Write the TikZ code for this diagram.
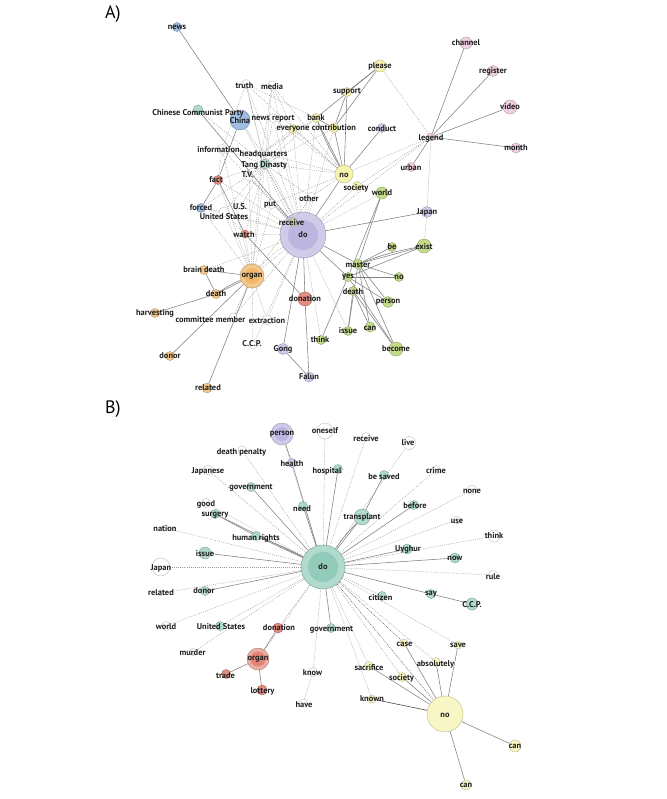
\documentclass[tikz,border=0pt]{standalone}
\usepackage{fontspec}
\setmainfont{PT Sans}
\usetikzlibrary{backgrounds}
\pgfdeclarelayer{circ}
\pgfsetlayers{background,circ,main}
\definecolor{cblue}{HTML}{92B5DE}
\definecolor{cteal}{HTML}{A6D6C6}
\definecolor{cyel}{HTML}{F5F2A6}
\definecolor{cpink}{HTML}{F0C9DE}
\definecolor{cpur}{HTML}{C9C5E8}
\definecolor{cpurd}{HTML}{B9B3E0}
\definecolor{cgreen}{HTML}{BBD77A}
\definecolor{cred}{HTML}{E27F72}
\definecolor{credl}{HTML}{E9A398}
\definecolor{corg}{HTML}{F4C27E}
\definecolor{corgd}{HTML}{F0B468}
\definecolor{cgrn}{HTML}{C8D3A8}
\definecolor{cBteal}{HTML}{A5D6C7}
\definecolor{cBteald}{HTML}{90CAB8}
\definecolor{cBy}{HTML}{F7F5BC}
\tikzset{
 nd/.style={circle,inner sep=0pt,draw=#1!75!black,fill=#1,fill opacity=0.88,line width=0.4pt},
 lbl/.style={font=\bfseries\fontsize{8.4}{9}\selectfont,text=black!88,inner sep=0pt},
 se/.style={draw=black!50,line width=0.55pt},
 de/.style={draw=black!40,line width=0.45pt,dash pattern=on 0.9pt off 1.2pt},
 dde/.style={draw=black!62,line width=0.5pt,dash pattern=on 1pt off 1pt},
 ttl/.style={font=\fontsize{18}{19}\selectfont,inner sep=0pt},
 hubin/.style={circle,inner sep=0pt,fill=#1,fill opacity=0.9}
}
% name, x, y, diameter, colour, text, label shift
\newcommand\N[7]{\begin{pgfonlayer}{circ}\node[nd=#5,minimum size=#4pt] (#1) at (#2,#3) {};\end{pgfonlayer}\node[lbl,#7] (#1-l) at (#1) {#6};}
% hub: name, x, y, outer d, outer colour, inner d, inner colour, text
\newcommand\HubN[8]{\begin{pgfonlayer}{circ}\node[nd=#5,minimum size=#4pt] (#1) at (#2,#3) {};\node[hubin=#7,minimum size=#6pt] (#1-i) at (#1) {};\end{pgfonlayer}\node[lbl] (#1-l) at (#1) {#8};}
\begin{document}
\begin{tikzpicture}[x=1pt,y=-1pt]
\useasboundingbox (0,0) rectangle (666,799);
\node[ttl] (tA) at (113,14) {A)};
\node[ttl] (tB) at (113,409) {B)};
% ---------- Panel A nodes ----------
\N{newsA}{177}{27}{9}{cblue}{news}{}
\N{truth}{246}{84}{9}{white}{truth}{xshift=-1.5pt,yshift=-2pt}
\N{media}{272}{85}{8}{white}{media}{yshift=-2pt}
\N{ccpA}{198}{110}{10}{cteal}{Chinese Communist Party}{yshift=-3pt}
\N{china}{240}{120}{20}{cblue}{China}{yshift=-1pt}
\N{newsrep}{273}{118}{9}{white}{news report}{yshift=-1pt}
\N{everyone}{293}{129}{9}{cyel}{everyone}{}
\N{bank}{316}{118}{9}{cyel}{bank}{}
\N{contrib}{334}{128}{9}{cyel}{contribution}{}
\N{support}{347}{92}{9}{cyel}{support}{}
\N{please}{380}{66}{12}{cyel}{please}{}
\N{conduct}{382}{128}{9}{cpur}{conduct}{yshift=-1pt}
\N{legend}{431}{137}{8}{cpink}{legend}{yshift=-1pt}
\N{urban}{411}{167}{9}{cpink}{urban}{yshift=-1pt}
\N{channel}{466}{43}{12}{cpink}{channel}{}
\N{register}{493}{71}{11}{cpink}{register}{}
\N{video}{510}{107}{14}{cpink}{video}{}
\N{month}{516}{148}{10}{cpink}{month}{}
\N{noA}{344}{174}{18}{cyel}{no}{yshift=-1pt}
\N{societyA}{357}{186}{9}{cyel}{society}{xshift=-1pt,yshift=-2pt}
\N{world}{382}{193}{12}{cgreen}{world}{}
\N{info}{222}{149}{9}{white}{information}{xshift=-3.5pt,yshift=-1pt}
\N{hq}{262}{153}{6}{white}{headquarters}{xshift=1.5pt,yshift=-1pt}
\N{tang}{265}{164}{10}{cteal}{Tang Dinasty}{xshift=-1pt,yshift=-1pt}
\N{tv}{249}{177}{8}{white}{T.V.}{xshift=-1.5pt,yshift=2pt}
\N{fact}{218}{180}{9}{cred}{fact}{xshift=-2pt}
\N{other}{311}{197}{9}{white}{other}{xshift=-2pt,yshift=-2pt}
\N{put}{272}{204}{9}{white}{put}{xshift=-2pt,yshift=-1pt}
\N{us}{241}{206}{7}{white}{U.S.}{xshift=-1pt,yshift=-1pt}
\N{usa}{224}{212}{10}{white}{United States}{yshift=-5pt}
\N{forced}{201}{208}{9}{cblue}{forced}{}
\N{watch}{245}{234}{8}{cred}{watch}{xshift=-1pt,yshift=-1pt}
\HubN{doA}{303}{235}{46}{cpur}{30}{cpurd}{do}
\N{receiveA}{293}{222}{9}{cgrn}{receive}{xshift=-1.5pt,yshift=-1pt}
\N{japanA}{427}{212}{11}{cpur}{Japan}{}
\N{be}{392}{247}{9}{cgreen}{be}{}
\N{exist}{424}{246}{14}{cgreen}{exist}{yshift=-1pt}
\N{master}{358}{264}{10}{cgreen}{master}{yshift=-1pt}
\N{yes}{348}{277}{9}{cgreen}{yes}{}
\N{nog}{399}{277}{9}{cgreen}{no}{}
\N{deathg}{353}{291}{9}{cgreen}{death}{yshift=-1pt}
\N{personA}{388}{302}{11}{cgreen}{person}{}
\N{issueA}{348}{331}{9}{cgreen}{issue}{}
\N{canA}{370}{327}{10}{cgreen}{can}{yshift=-1pt}
\N{become}{396}{349}{14}{cgreen}{become}{}
\N{thinkA}{321}{340}{9}{cgreen}{think}{xshift=-1pt}
\N{falun}{309}{377}{10}{cpur}{Falun}{}
\N{donationA}{305}{299}{14}{cred}{donation}{}
\N{gong}{283}{349}{11}{cpur}{Gong}{}
\N{ccpsA}{253}{345}{8}{white}{C.C.P.}{xshift=-1pt,yshift=1pt}
\N{extraction}{267}{320}{10}{white}{extraction}{yshift=-1pt}
\N{committee}{233}{317}{8}{white}{committee member}{xshift=-22.5pt,yshift=-3pt}
\HubN{organA}{252}{276}{24}{corg}{16}{corgd}{organ}
\N{brain}{204}{270}{9}{corg}{brain death}{}
\N{deatho}{216}{294}{9}{corg}{death}{}
\N{harvesting}{155}{313}{9}{corg}{harvesting}{}
\N{donorA}{170}{356}{9}{corg}{donor}{}
\N{relatedA}{207}{388}{10}{corg}{related}{xshift=1pt}
% ---------- Panel B nodes ----------
\HubN{personB}{282}{434}{22}{cpur}{14}{cpurd}{person}
\N{oneself}{325}{431}{16}{white}{oneself}{}
\N{dpen}{242}{450}{8}{white}{death penalty}{xshift=-0.5pt,yshift=-2pt}
\N{health}{292}{463}{9}{cpur}{health}{yshift=-1pt}
\N{japanese}{208}{470}{10}{white}{Japanese}{yshift=-1pt}
\N{hospital}{338}{469}{9}{cBteal}{hospital}{xshift=-11pt,yshift=-2pt}
\N{govT}{251}{487}{9}{cBteal}{government}{yshift=-1pt}
\N{receiveB}{366}{437}{9}{white}{receive}{yshift=-2pt}
\N{live}{409}{443}{13}{white}{live}{xshift=-1pt}
\N{besaved}{384}{475}{9}{cBteal}{be saved}{yshift=-2pt}
\N{crime}{436}{470}{9}{white}{crime}{yshift=-1pt}
\N{none}{472}{490}{10}{white}{none}{yshift=-1pt}
\N{before}{414}{505}{9}{cBteal}{before}{xshift=1pt,yshift=-1pt}
\N{transplant}{362}{517}{16}{cBteal}{transplant}{}
\N{use}{457}{520}{8}{white}{use}{yshift=-1pt}
\N{thinkB}{494}{536}{12}{white}{think}{}
\N{uyghur}{407}{549}{10}{cBteal}{Uyghur}{xshift=1pt}
\N{now}{455}{558}{10}{cBteal}{now}{}
\N{rule}{493}{575}{9}{white}{rule}{yshift=-2pt}
\N{say}{431}{594}{9}{cBteal}{say}{}
\N{ccpB}{472}{604}{12}{cBteal}{C.C.P.}{yshift=-1pt}
\N{citizen}{382}{596}{9}{cBteal}{citizen}{xshift=-1.5pt,yshift=-2pt}
\HubN{doB}{323}{567}{44}{cBteal}{30}{cBteald}{do}
\N{good}{206}{503}{9}{white}{good}{yshift=-1pt}
\N{surgery}{215}{514}{9}{cBteal}{surgery}{yshift=-1pt}
\N{need}{303}{506}{9}{cBteal}{need}{xshift=-1pt,yshift=-3pt}
\N{nation}{165}{528}{6}{white}{nation}{yshift=-1pt}
\N{hr}{256}{536}{9}{cBteal}{human rights}{yshift=-2pt}
\N{issueB}{205}{553}{12}{cBteal}{issue}{yshift=-1pt}
\N{japanB}{161}{567}{18}{white}{Japan}{yshift=-1pt}
\N{relatedB}{161}{593}{6}{white}{related}{}
\N{donorB}{205}{591}{9}{cBteal}{donor}{xshift=-1pt}
\N{worldB}{166}{626}{9}{white}{world}{yshift=-1pt}
\N{usB}{220}{626}{9}{cBteal}{United States}{xshift=1pt,yshift=-1pt}
\N{donationB}{278}{628}{10}{cred}{donation}{xshift=1pt}
\N{govB}{331}{628}{9}{cBteal}{government}{xshift=0.5pt,yshift=-2pt}
\N{murder}{193}{652}{7}{white}{murder}{xshift=-0.5pt,yshift=-1pt}
\HubN{organB}{258}{659}{22}{credl}{15}{cred}{organ}
\N{trade}{226}{674}{9}{cred}{trade}{xshift=-0.5pt,yshift=-2pt}
\N{lottery}{262}{690}{10}{cred}{lottery}{xshift=0.5pt,yshift=-1pt}
\N{know}{313}{672}{9}{white}{know}{xshift=-0.5pt,yshift=-1pt}
\N{have}{303}{703}{8}{white}{have}{xshift=1pt,yshift=-2pt}
\N{case}{404}{643}{8}{cBy}{case}{xshift=0.5pt,yshift=-1pt}
\N{save}{458}{645}{8}{cBy}{save}{}
\N{absol}{436}{662}{9}{cBy}{absolutely}{xshift=-0.5pt,yshift=-2pt}
\N{sacrifice}{369}{666}{9}{cBy}{sacrifice}{yshift=-2pt}
\N{societyB}{402}{677}{9}{cBy}{society}{xshift=-0.5pt,yshift=-1pt}
\N{known}{372}{699}{8}{cBy}{known}{}
\N{noB}{445}{714}{36}{cBy}{no}{yshift=-1pt}
\N{canB}{515}{746}{12}{cBy}{can}{}
\N{canC}{466}{785}{10}{cBy}{can}{}
% ---------- edges ----------
\begin{scope}[on background layer]
\fill[white] (0,0) rectangle (666,799);
\foreach \a/\b in {doA/receiveA,doA/other,doA/put,doA/us,doA/usa,doA/tv,doA/tang,doA/hq,doA/info,doA/newsrep,doA/truth,doA/media,doA/everyone,doA/bank,doA/contrib,doA/societyA,doA/world,doA/fact,doA/watch,doA/extraction,doA/committee,doA/ccpsA,doA/thinkA,doA/issueA,doA/legend,doA/forced,doA/brain,doA/china,
 tang/truth,tang/media,tang/newsrep,tang/info,tang/fact,tang/tv,tang/everyone,tang/bank,tang/ccpA,tang/forced,tang/usa,tang/us,tang/put,tang/other,tang/organA,tang/watch,tang/noA,tang/contrib,
 hq/truth,hq/media,hq/info,hq/everyone,hq/bank,hq/china,
 organA/usa,organA/forced,organA/fact,organA/hq,organA/committee,organA/extraction,organA/ccpsA,organA/receiveA,organA/watch,organA/doA,organA/tv,organA/put,organA/info,
 noA/hq,noA/everyone,noA/other,noA/legend,noA/put,noA/newsrep,noA/truth,noA/media,
 legend/please,legend/societyA,legend/japanA,japanA/exist,truth/info,media/everyone,truth/bank,info/fact,forced/usa,usa/watch,receiveA/put,receiveA/other,receiveA/tv}
 \draw[de] (\a) -- (\b);
\draw[de] (organA) to[bend left=8] (doA);
\draw[de] (doA) to[bend left=6] (tang);
\foreach \a/\b in {newsA/china,china/fact,fact/forced,fact/watch,watch/donationA,ccpA/doA,doA/japanA,doA/noA,noA/conduct,noA/bank,noA/contrib,noA/support,please/bank,please/support,please/contrib,support/contrib,bank/contrib,legend/channel,legend/register,legend/video,legend/month,legend/urban,world/master,world/yes,doA/master,doA/yes,master/be,master/exist,yes/exist,master/nog,yes/nog,master/personA,yes/personA,master/canA,master/become,yes/become,deathg/become,deathg/canA,yes/thinkA,master/issueA,deathg/issueA,doA/donationA,donationA/falun,doA/gong,gong/falun,organA/brain,organA/deatho,brain/deatho,deatho/harvesting,organA/donorA,organA/relatedA}
 \draw[se] (\a) -- (\b);
\draw[se] (noA) to[bend left=4] (bank);
\draw[se] (organA) to[bend right=6] (deatho);
\draw[se] (master) to[bend left=5] (exist);
% panel B
\foreach \a/\b in {doB/oneself,doB/receiveB,doB/live,doB/crime,doB/none,doB/use,doB/thinkB,doB/rule,doB/dpen,doB/japanese,doB/good,doB/nation,doB/japanB,doB/relatedB,doB/worldB,doB/usB,doB/murder,doB/donationB,doB/organB,doB/know,doB/save,doB/absol,doB/sacrifice,doB/societyB,doB/known,doB/citizen,know/have,doB/personB}
 \draw[de] (\a) -- (\b);
\foreach \a/\b in {doB/health,health/personB,doB/hospital,besaved/transplant,transplant/doB,doB/before,doB/uyghur,doB/now,doB/say,say/ccpB,doB/govB,doB/need,doB/govT,doB/hr,hr/surgery,doB/surgery,doB/issueB,doB/donorB,organB/donationB,organB/trade,organB/lottery,noB/case,noB/save,noB/absol,noB/sacrifice,noB/societyB,noB/canB,noB/canC}
 \draw[se] (\a) -- (\b);
\draw[se] (doB) to[bend left=4] (transplant);
\draw[se] (doB) to[bend right=3] (hr);
\draw[draw=black!70,line width=0.6pt] (noB) -- (known);
\draw[dde] (doB) -- (noB);
\draw[dde] (doB) -- (case);
\end{scope}
\end{tikzpicture}
\end{document}
